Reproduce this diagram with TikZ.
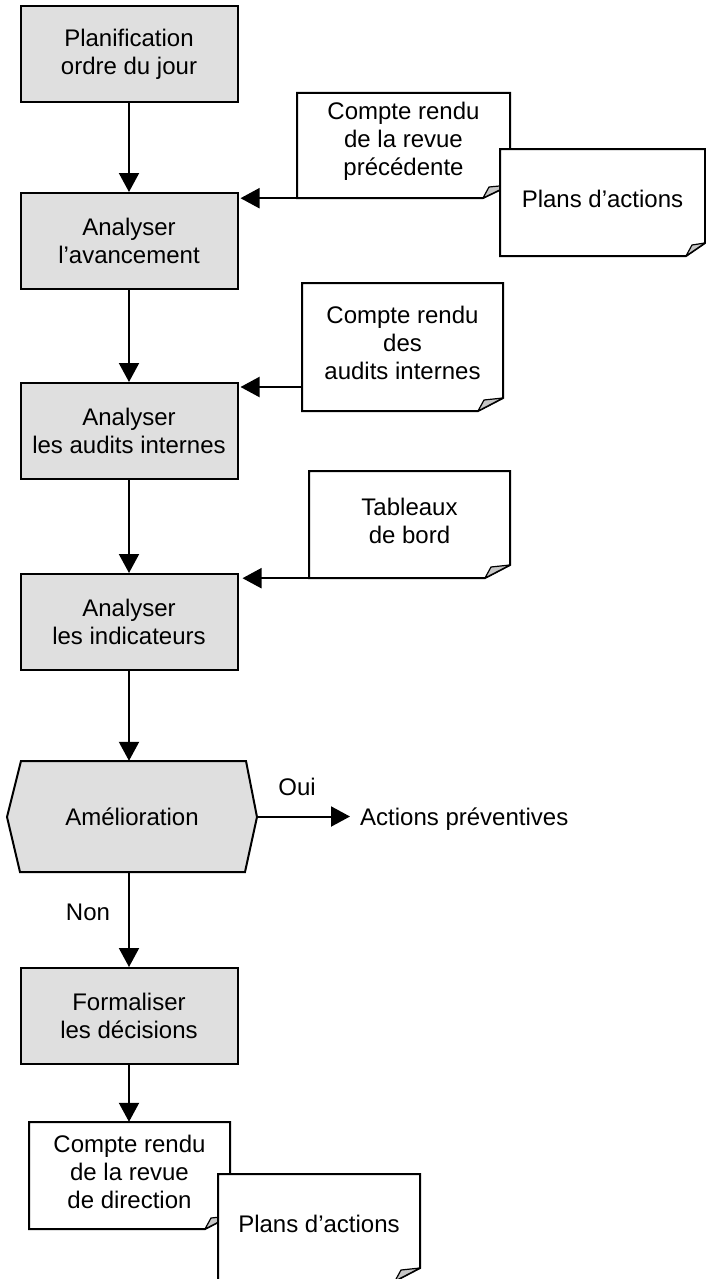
\documentclass[tikz,border=0pt]{standalone}
\usepackage{fontspec}
\setmainfont{Liberation Sans}
\usetikzlibrary{arrows.meta}
\newcommand{\lab}{\fontsize{24}{28}\selectfont}
\tikzset{
  box/.style={draw, line width=2pt, fill=gray!25, minimum width=217pt, minimum height=96pt, align=center, font=\lab, inner sep=0pt},
  doctext/.style={align=center, font=\lab, inner sep=0pt},
  plain/.style={font=\lab, inner sep=0pt},
  arr/.style={line width=2pt, -{Triangle[length=19pt,width=20pt]}},
  docline/.style={line width=2pt, line join=miter},
  foldline/.style={line width=1.2pt, fill=gray!45, line join=round}
}
% name, left, top, right, bottom, fold width, text
\newcommand{\docshape}[7]{%
  \filldraw[docline, fill=white] (#2,#3) -- (#4,#3) -- (#4,#5-13) -- (#4-#6,#5) -- (#2,#5) -- cycle;
  \filldraw[foldline] (#4-#6,#5) -- (#4-#6+6,#5-11) -- (#4,#5-13) -- cycle;
  \node[inner sep=0pt, minimum width={(#4-#2)*1pt}, minimum height={(#5-#3)*1pt}] (#1) at ({(#2+#4)/2},{(#3+#5)/2}) {};
  \node[doctext] (#1t) at ({(#2+#4)/2},{(#3+#5)/2-4}) {#7};
}
\begin{document}
\begin{tikzpicture}[x=1pt, y=-1pt]
\useasboundingbox (0,0) rectangle (706,1279);

% process boxes
\node[box] (b1) at (129,54) {Planification\\ordre du jour};
\node[box] (b2) at (129,241) {Analyser\\l’avancement};
\node[box] (b3) at (129,431) {Analyser\\les audits internes};
\node[box] (b4) at (129,622) {Analyser\\les indicateurs};
\node[box] (b5) at (129,1016) {Formaliser\\les décisions};

% decision hexagon
\filldraw[line width=2pt, fill=gray!25, line join=miter]
  (7,817) -- (21,761) -- (246,761) -- (257,817) -- (245,872) -- (20,872) -- cycle;
\node[plain, minimum width=250pt, minimum height=111pt] (hex) at (132,816.5) {Amélioration};

% documents
\docshape{doc1}{297}{93}{510}{198}{27}{Compte rendu\\de la revue\\précédente}
\docshape{doc2}{500}{149}{705}{256}{19}{Plans d’actions}
\docshape{doc3}{302}{283}{503}{411}{25}{Compte rendu\\des\\audits internes}
\docshape{doc4}{309}{471}{510}{578}{25}{Tableaux\\de bord}
\docshape{doc5}{29}{1122}{230}{1229}{25}{Compte rendu\\de la revue\\de direction}
\docshape{doc6}{218}{1174}{420}{1281}{25}{Plans d’actions}

% labels
\node[plain] (oui) at (297,787) {Oui};
\node[plain] (non) at (88,912) {Non};
\node[plain, anchor=west, inner xsep=10pt] (act) at (350,819) {Actions préventives};

% connectors
\coordinate (c3) at (0,387);
\draw[arr] (b1.south) -- (b2.north);
\draw[arr, shorten >=2pt] (doc1.south west) -- (doc1.south west -| b2.east);
\draw[arr] (b2.south) -- (b3.north);
\draw[arr, shorten >=2pt] (doc3.west |- c3) -- (b3.east |- c3);
\draw[arr] (b3.south) -- (b4.north);
\draw[arr, shorten >=4pt] (doc4.south west) -- (doc4.south west -| b4.east);
\draw[arr] (b4.south) -- (b4.south |- hex.north);
\draw[arr] (hex.east) -- (hex.east -| act.west);
\draw[arr] (hex.south -| b5.north) -- (b5.north);
\draw[arr] (b5.south) -- (b5.south |- doc5.north);
\end{tikzpicture}
\end{document}
